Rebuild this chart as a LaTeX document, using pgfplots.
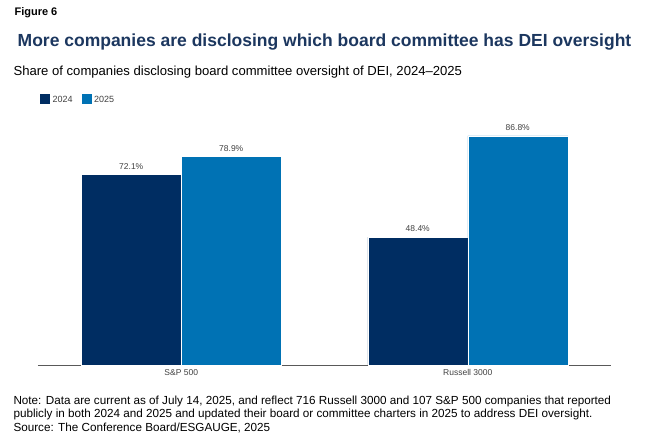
\documentclass[border=0pt]{standalone}
\usepackage{pgfplots}
\pgfplotsset{compat=1.18}
\usepackage{fontspec}
\setmainfont{Liberation Sans}
\definecolor{navy}{RGB}{0,45,98}
\definecolor{midblue}{RGB}{0,114,180}
\definecolor{titleblue}{RGB}{28,55,95}
\definecolor{labelgray}{RGB}{64,64,64}
\definecolor{axisgray}{RGB}{89,89,89}
\begin{document}
\begin{tikzpicture}[x=1pt,y=1pt]
  % fixed canvas, 1pt = 1px of the reference
  \path (0pt,0pt) rectangle (645pt,-447pt);

  \node[anchor=west, font=\bfseries\fontsize{11}{13}\selectfont] at (11pt,-13pt) {Figure 6};
  \node[anchor=center, font=\bfseries\fontsize{17.5}{20}\selectfont, text=titleblue] at (324.5pt,-42pt) {More companies are disclosing which board committee has DEI oversight};
  \node[anchor=west, font=\fontsize{13.1}{15}\selectfont] at (10pt,-72pt) {Share of companies disclosing board committee oversight of DEI, 2024--2025};

  \begin{axis}[
      at={(38pt,-365pt)}, anchor=south west,
      scale only axis,
      width=573pt, height=264pt,
      xmin=-0.5, xmax=1.5,
      ymin=0, ymax=100,
      axis y line=none,
      axis x line*=bottom,
      x axis line style={draw=axisgray, line width=0.9pt, -},
      xtick={0,1},
      xticklabels={S\&P 500, Russell 3000},
      major tick length=0pt,
      x tick label style={font=\fontsize{8.5}{10}\selectfont, text=labelgray, yshift=-1pt},
      ybar=0pt,
      bar width=100pt,
      clip=false,
      nodes near coords={\pgfmathprintnumber[fixed,precision=1,fixed zerofill,assume math mode=true]{\pgfplotspointmeta}\%},
      every node near coord/.append style={font=\fontsize{8.5}{10}\selectfont, text=labelgray, yshift=2pt},
      legend style={at={(0,1)}, anchor=west, yshift=1.5pt, xshift=-2pt, draw=none, fill=none,
        legend columns=2, font=\fontsize{9}{11}\selectfont, text=labelgray,
        /tikz/every even column/.append style={column sep=6pt}},
      legend image code/.code={\fill[#1] (0pt,-5pt) rectangle (11pt,6pt);},
    ]
    \addplot[draw=white, line width=0.5pt, fill=navy] coordinates {(0,72.1) (1,48.4)};
    \addplot[draw=white, line width=0.5pt, fill=midblue] coordinates {(0,78.9) (1,86.8)};
    \legend{2024, 2025}
  \end{axis}

  \node[anchor=west, font=\fontsize{11.7}{14}\selectfont] at (10pt,-401pt) {Note: Data are current as of July 14, 2025, and reflect 716 Russell 3000 and 107 S\&P 500 companies that reported};
  \node[anchor=west, font=\fontsize{11.7}{14}\selectfont] at (10pt,-414pt) {publicly in both 2024 and 2025 and updated their board or committee charters in 2025 to address DEI oversight.};
  \node[anchor=west, font=\fontsize{11.7}{14}\selectfont] at (10pt,-428pt) {Source: The Conference Board/ESGAUGE, 2025};
\end{tikzpicture}
\end{document}
